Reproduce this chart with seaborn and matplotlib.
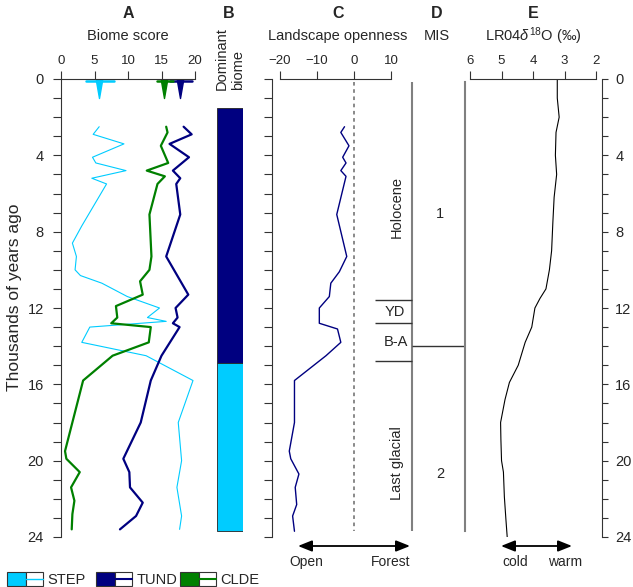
import matplotlib
matplotlib.use('Agg')
import matplotlib.pyplot as plt
from matplotlib.patches import Rectangle
from matplotlib.path import Path
import seaborn as sns

# biome scores (A)
step_age = [2.5, 2.9, 3.4, 4.1, 4.4, 4.8, 5.2, 5.5, 7.7, 8.6, 9.3, 10.0, 10.3, 10.7, 11.4,
            12.0, 12.5, 12.7, 13.0, 13.8, 14.5, 15.8, 18.0, 20.0, 21.4, 22.9, 23.6]
step_val = [5.7, 4.8, 9.4, 4.7, 5.2, 9.7, 4.6, 6.8, 3.1, 1.7, 2.3, 2.1, 2.9, 6.1, 9.9,
            14.7, 12.9, 15.7, 4.3, 3.1, 12.7, 19.7, 17.5, 18.0, 17.3, 18.0, 17.7]
tund_age = [2.5, 2.9, 3.4, 4.1, 4.8, 5.2, 5.5, 7.1, 9.3, 11.3, 12.0, 12.5, 12.8, 13.0,
            14.5, 15.8, 18.0, 19.9, 20.6, 21.4, 22.2, 22.9, 23.6]
tund_val = [18.3, 19.5, 16.2, 19.1, 16.7, 17.8, 17.2, 17.8, 15.7, 19.0, 17.1, 17.4, 16.7, 17.7,
            15.0, 13.4, 11.9, 9.3, 10.2, 10.3, 12.2, 11.2, 8.8]
clde_age = [2.5, 2.8, 3.5, 4.4, 4.8, 5.1, 5.5, 7.1, 9.3, 10.0, 10.6, 11.3, 11.9, 12.5, 12.8,
            13.0, 13.8, 14.5, 15.8, 19.5, 19.9, 20.6, 21.4, 22.1, 22.8, 23.6]
clde_val = [15.7, 15.9, 14.9, 16.0, 12.8, 15.5, 14.4, 13.2, 13.5, 13.2, 11.8, 12.2, 8.2, 8.4, 7.5,
            13.4, 13.1, 7.7, 3.3, 0.6, 0.8, 2.8, 1.5, 2.0, 1.7, 1.6]
# mean and range markers at the top of A
biome_names = ['STEP', 'TUND', 'CLDE']
biome_colors = ['#00CCFF', '#000080', '#008000']
biome_mean = [5.7, 17.8, 15.4]
biome_lo = [3.7, 16.2, 14.3]
biome_hi = [7.9, 19.6, 16.7]

# dominant biome (B)
dom_top = [1.5, 14.9]
dom_bottom = [14.9, 23.7]
dom_color = ['#000080', '#00CCFF']

# landscape openness (C)
open_age = [2.5, 2.8, 3.5, 4.1, 4.4, 4.8, 5.1, 7.1, 9.3, 10.1, 10.7, 11.4, 12.0, 12.8, 13.1,
            13.8, 14.5, 15.8, 18.0, 19.5, 19.9, 20.7, 21.4, 22.3, 22.9, 23.7]
open_val = [-2.6, -3.6, -1.4, -3.1, -2.2, -3.6, -2.2, -4.7, -2.0, -4.0, -6.3, -6.7, -9.4, -9.4, -4.5,
            -3.6, -7.6, -16.1, -16.1, -17.5, -17.1, -14.9, -15.9, -15.5, -16.6, -16.1]

# MIS / periods (D)
yd_start, yd_end, ba_end = 11.6, 12.8, 14.8
mis_boundary = 14.0

# LR04 (E)
lr04_age = [0, 1, 2, 2.8, 4, 5, 6.2, 7.5, 9, 10, 11, 11.5, 12, 13, 13.8, 15, 15.9, 16.8, 18,
            18.9, 20, 20.6, 21.9, 23.1, 24]
lr04_val = [3.23, 3.23, 3.17, 3.27, 3.29, 3.25, 3.33, 3.37, 3.41, 3.48, 3.59, 3.78, 3.94, 4.04,
            4.25, 4.47, 4.75, 4.89, 5.03, 5.02, 5.0, 4.94, 4.91, 4.86, 4.82]

sns.set_style('ticks')
plt.rcParams['font.family'] = ['Liberation Sans', 'DejaVu Sans']
plt.rcParams['mathtext.fontset'] = 'custom'
plt.rcParams['mathtext.rm'] = 'Liberation Sans'
plt.rcParams['mathtext.it'] = 'Liberation Sans:italic'

W, H = 633, 587
fig = plt.figure(figsize=(W / 100, H / 100), dpi=100)
INK = '#333333'
GREY = '#808080'


def box(l, t, r, b):
    return [l / W, 1 - b / H, (r - l) / W, (b - t) / H]


def ftext(x, y, s, **kw):
    fig.text(x / W, 1 - y / H, s, **kw)


def style_axis(ax, xb, left=True):
    ax.set_ylim(24, 0)
    for s in ['bottom', 'right', 'left', 'top']:
        ax.spines[s].set_visible(False)
    ax.spines['top'].set_visible(True)
    ax.spines['top'].set_bounds(*xb)
    ax.spines['top'].set_color(INK)
    ax.xaxis.tick_top()
    ax.tick_params(axis='both', direction='out', length=5.5, width=0.8, color=INK,
                   labelsize=9.5, pad=3)
    ax.set_xlabel('')
    ax.set_ylabel('')
    ax.patch.set_alpha(0)
    ax.grid(False)


# ---- A
ax_a = fig.add_axes(box(61, 79, 195, 537))
for age, val, c, lw in [(step_age, step_val, biome_colors[0], 0.8),
                        (tund_age, tund_val, biome_colors[1], 1.6),
                        (clde_age, clde_val, biome_colors[2], 1.6)]:
    sns.lineplot(x=val, y=age, sort=False, estimator=None, color=c, lw=lw, ax=ax_a)
tri = Path([(-0.35, 1), (0.35, 1), (0, -1), (-0.35, 1)],
           [Path.MOVETO, Path.LINETO, Path.LINETO, Path.CLOSEPOLY])
for m, lo, hi, c in zip(biome_mean, biome_lo, biome_hi, biome_colors):
    ax_a.plot([lo, hi], [0.12, 0.12], color=c, lw=1.8, clip_on=False)
    ax_a.plot([m], [0.5], marker=tri, ms=13, color=c, mec=c, clip_on=False)
ax_a.set_xlim(0, 20)
style_axis(ax_a, (0, 20))
ax_a.spines['left'].set_visible(True)
ax_a.spines['left'].set_bounds(0, 24)
ax_a.spines['left'].set_color(INK)
ax_a.set_xticks([0, 5, 10, 15, 20])
ax_a.set_yticks(range(25))
ax_a.set_yticklabels([str(v) if v % 4 == 0 else '' for v in range(25)], fontsize=10.5)
ax_a.tick_params(axis='y', pad=7)
ftext(15, 297, 'Thousands of years ago', rotation=90, ha='center', va='center', fontsize=12.5)

# ---- B
ax_b = fig.add_axes(box(217, 79, 243, 537))
for t, b, c in zip(dom_top, dom_bottom, dom_color):
    ax_b.bar([0.5], [b - t], bottom=[t], width=1, color=c, edgecolor='#222222', lw=0.6)
ax_b.set_xlim(0, 1)
ax_b.set_ylim(24, 0)
ax_b.axis('off')

# ---- C
ax_c = fig.add_axes(box(272, 79, 392, 537))
ax_c.plot([0, 0], [0.15, 23.7], color=GREY, lw=1.3, ls=(0, (2, 2)))
sns.lineplot(x=open_val, y=open_age, sort=False, estimator=None, color='#000080', lw=1.0, ax=ax_c)
ax_c.set_xlim(-22.16, 10.2)
style_axis(ax_c, (-20, 10))
ax_c.spines['left'].set_visible(True)
ax_c.spines['left'].set_bounds(0, 24)
ax_c.spines['left'].set_color(INK)
ax_c.set_xticks([-20, -10, 0, 10])
ax_c.set_yticks(range(25))
ax_c.set_yticklabels([])

# ---- D
ax_d = fig.add_axes(box(372, 79, 465, 537))
ax_d.set_xlim(0, 93)
ax_d.set_ylim(24, 0)
ax_d.axis('off')
ax_d.vlines(40, 0.15, 23.7, color=GREY, lw=1.5)
ax_d.hlines([yd_start, yd_end, ba_end], 3, 40, color=INK, lw=1.0)
ax_d.hlines(mis_boundary, 40, 93, color=INK, lw=1.0)
ax_d.text(25, (yd_start) / 2 + 0.9, 'Holocene', rotation=90, ha='center', va='center', fontsize=10.5)
ax_d.text(23, (yd_start + yd_end) / 2, 'YD', ha='center', va='center', fontsize=10.5)
ax_d.text(24, (yd_end + ba_end) / 2, 'B-A', ha='center', va='center', fontsize=10.5)
ax_d.text(25, 20.1, 'Last glacial', rotation=90, ha='center', va='center', fontsize=10.5)
ax_d.text(68, 7.1, '1', ha='center', va='center', fontsize=10.5)
ax_d.text(68, 20.7, '2', ha='center', va='center', fontsize=10.5)

# ---- E
ax_e = fig.add_axes(box(465, 79, 602, 537))
sns.lineplot(x=lr04_val, y=lr04_age, sort=False, estimator=None, color='black', lw=0.8, ax=ax_e)
ax_e.set_xlim(6.16, 1.81)
style_axis(ax_e, (2, 6))
ax_e.spines['right'].set_visible(True)
ax_e.spines['right'].set_bounds(0, 24)
ax_e.spines['right'].set_color(INK)
ax_e.spines['left'].set_visible(True)
ax_e.spines['left'].set_bounds(0.15, 23.7)
ax_e.spines['left'].set_color(GREY)
ax_e.spines['left'].set_linewidth(1.5)
ax_e.yaxis.tick_right()
ax_e.set_xticks([6, 5, 4, 3, 2])
ax_e.set_yticks(range(25))
ax_e.set_yticklabels([str(v) if v % 4 == 0 else '' for v in range(25)], fontsize=10.5)
ax_e.tick_params(axis='y', length=4.5, pad=5)

# ---- headings
for x, letter, sub in [(128, 'A', 'Biome score'), (338, 'C', 'Landscape openness'),
                       (437, 'D', 'MIS'), (533, 'E', 'LR04$\\mathit{\\delta}^{18}$O (‰)')]:
    ftext(x, 14, letter, ha='center', va='center', fontsize=11.5, fontweight='bold')
    ftext(x, 36, sub, ha='center', va='center', fontsize=10.5)
ftext(229, 14, 'B', ha='center', va='center', fontsize=11.5, fontweight='bold')
ftext(230, 90, 'Dominant\nbiome', rotation=90, ha='center', va='bottom',
      multialignment='left', fontsize=10.5, linespacing=1.15)

# ---- arrows and legend on an overlay
ax_bg = fig.add_axes([0, 0, 1, 1], zorder=-1)
ax_bg.set_xlim(0, W)
ax_bg.set_ylim(H, 0)
ax_bg.axis('off')
aprops = dict(arrowstyle='<|-|>,head_length=0.7,head_width=0.28', color='black', lw=1.3,
              shrinkA=0, shrinkB=0, mutation_scale=12)
ax_bg.annotate('', xy=(298, 546), xytext=(410, 546), arrowprops=aprops)
ax_bg.annotate('', xy=(501, 546), xytext=(572, 546), arrowprops=aprops)
for x, s in [(306, 'Open'), (391, 'Forest'), (515, 'cold'), (565, 'warm')]:
    ax_bg.text(x, 562, s, ha='center', va='center', fontsize=10)

for x0, name, c, lw in [(7, 'STEP', biome_colors[0], 1.0), (96, 'TUND', biome_colors[1], 1.5),
                        (180, 'CLDE', biome_colors[2], 1.5)]:
    ax_bg.add_patch(Rectangle((x0, 572), 18.5, 14, facecolor=c, edgecolor=INK, lw=0.8))
    ax_bg.add_patch(Rectangle((x0 + 18.5, 572), 17.5, 14, facecolor='white', edgecolor=INK, lw=0.8))
    ax_bg.plot([x0 + 18.5, x0 + 36], [579, 579], color=c, lw=lw)
    ax_bg.text(x0 + 40.5, 579.5, name, ha='left', va='center', fontsize=10.5)

fig.savefig('out.png', dpi=100)
